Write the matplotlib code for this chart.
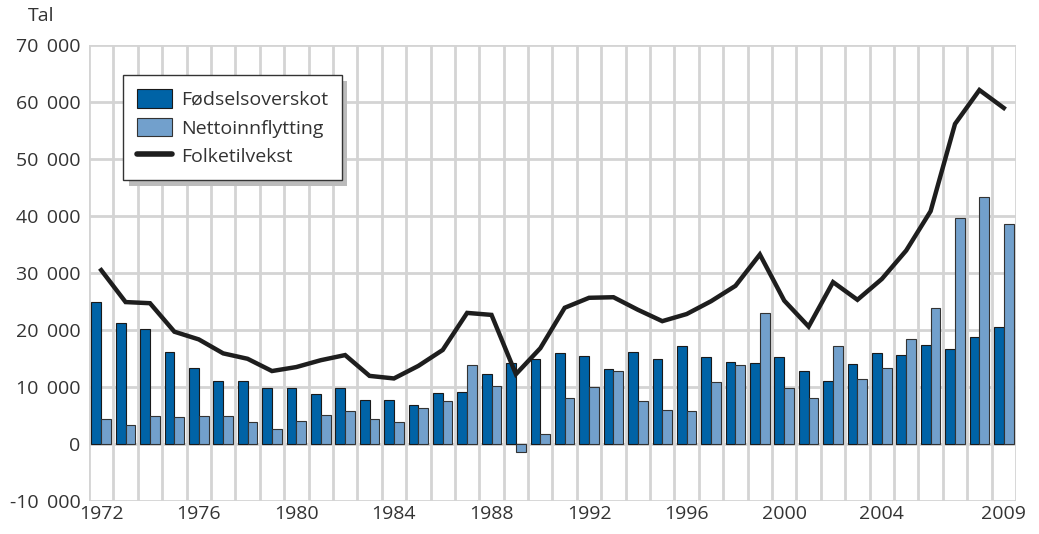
import matplotlib
matplotlib.use("Agg")
import matplotlib.pyplot as plt
import numpy as np
from matplotlib.patches import Patch
from matplotlib.lines import Line2D
import matplotlib.patheffects as pe

years = list(range(1972, 2010))
fodselsoverskot = [25000, 21200, 20100, 16200, 13300, 11000, 11000, 9900, 9750, 8800,
                   9800, 7700, 7700, 6800, 8950, 9100, 12250, 14200, 14950, 15950,
                   15450, 13150, 16100, 14950, 17150, 15300, 14350, 14250, 15300, 12850,
                   11100, 14050, 15950, 15650, 17400, 16600, 18850, 20450]
nettoinnflytting = [4400, 3400, 4900, 4750, 4850, 5000, 3900, 2650, 4050, 5150,
                    5750, 4300, 3800, 6250, 7500, 13850, 10200, -1450, 1750, 8100,
                    10050, 12850, 7500, 5900, 5850, 10800, 13900, 22900, 9800, 8100,
                    17200, 11400, 13300, 18500, 23800, 39600, 43300, 38600]
folketilvekst = [30500, 24900, 24700, 19700, 18350, 15900, 14950, 12800, 13500, 14700,
                 15600, 11950, 11500, 13700, 16500, 23000, 22650, 12250, 16800, 23900,
                 25650, 25750, 23550, 21550, 22800, 25050, 27750, 33250, 25150, 20600,
                 28400, 25300, 28950, 33950, 40850, 56150, 62100, 58950]
xtick_years = [1972, 1976, 1980, 1984, 1988, 1992, 1996, 2000, 2004, 2009]
ytick_vals = list(range(-10000, 70001, 10000))

plt.rcParams['font.family'] = ['Open Sans', 'DejaVu Sans']
text_col = '#333333'
dark = '#0063A6'
light = '#72A0CC'
grid_col = '#D4D4D4'
fs = 14

fig = plt.figure(figsize=(10.39, 5.34), dpi=100)
ax = fig.add_axes([89/1039, 1-501/534, (1016-89)/1039, (501-45)/534])

x = np.arange(len(years))
w = 0.4
ax.bar(x - w/2, fodselsoverskot, width=w, color=dark, edgecolor='#1a1a1a', linewidth=0.8, zorder=3)
ax.bar(x + w/2, nettoinnflytting, width=w, color=light, edgecolor='#333333', linewidth=0.8, zorder=3)
ax.plot(x, folketilvekst, color='#1e1e1e', linewidth=3.2, zorder=4, solid_joinstyle='miter')

ax.set_xlim(-0.5, len(years) - 0.5)
ax.set_ylim(-10000, 70000)
for b in np.arange(-0.5, len(years), 1.0):
    ax.axvline(b, color=grid_col, linewidth=2, zorder=1)
for v in ytick_vals:
    ax.axhline(v, color=grid_col, linewidth=2, zorder=1)
for s in ax.spines.values():
    s.set_visible(False)

ax.set_yticks(ytick_vals)
ax.set_yticklabels([f"{v:,}".replace(",", "\u2009 ") for v in ytick_vals])
ax.set_xticks([years.index(y) for y in xtick_years])
ax.set_xticklabels([str(y) for y in xtick_years])
ax.tick_params(axis='both', length=0, labelsize=fs, colors=text_col, pad=6)
ax.tick_params(axis='x', pad=3)

fig.text(28/1039, 1-16/534, 'Tal', fontsize=fs, color=text_col, va='center', ha='left')

handles = [Patch(facecolor=dark, edgecolor='#1a1a1a', linewidth=0.8, label='Fødselsoverskot'),
           Patch(facecolor=light, edgecolor='#333333', linewidth=0.8, label='Nettoinnflytting'),
           Line2D([0], [0], color='#1e1e1e', linewidth=4, solid_capstyle='round', label='Folketilvekst')]
leg = ax.legend(handles=handles, loc='upper left', bbox_to_anchor=((123-89)/927, (501-75)/456),
                frameon=True, fancybox=False, shadow=False, framealpha=1, fontsize=fs,
                handlelength=1.8, handleheight=1.1, borderpad=0.72, labelspacing=0.45,
                handletextpad=0.45, borderaxespad=0)
leg.get_frame().set_edgecolor('#333333')
leg.get_frame().set_linewidth(1.0)
leg.get_frame().set_facecolor('white')
leg.get_frame().set_path_effects([pe.SimplePatchShadow(offset=(4, -4), shadow_rgbFace='#BBBBBB', alpha=1), pe.Normal()])
for t in leg.get_texts():
    t.set_color(text_col)
leg.set_zorder(10)

fig.savefig('out.png', dpi=100)
